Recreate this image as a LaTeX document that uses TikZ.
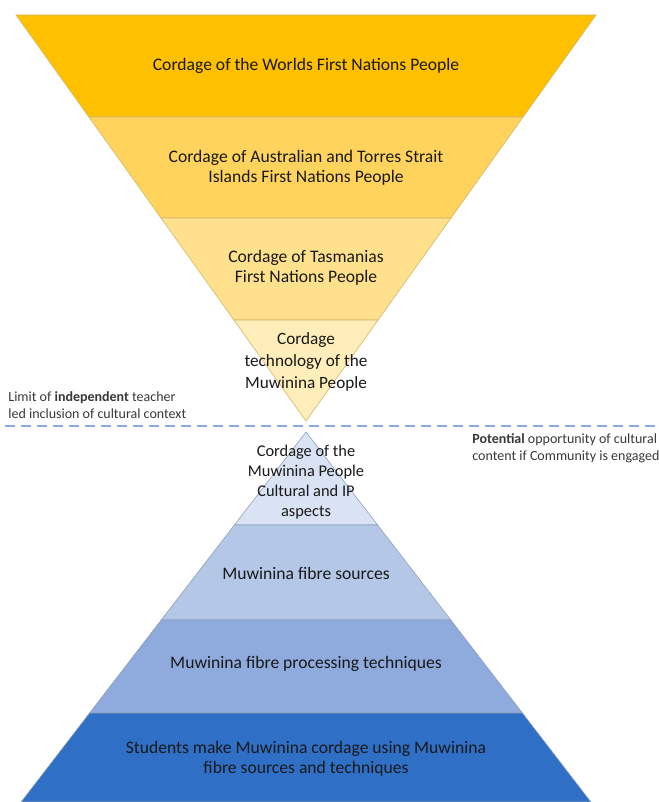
\documentclass[tikz,border=0pt]{standalone}
\usepackage{fontspec}
\setmainfont{Carlito}
\definecolor{goldA}{HTML}{FFC000}
\definecolor{goldB}{HTML}{FFD35C}
\definecolor{goldC}{HTML}{FFE08C}
\definecolor{goldD}{HTML}{FFEDBA}
\definecolor{blueA}{HTML}{DAE3F3}
\definecolor{blueB}{HTML}{B4C7E7}
\definecolor{blueC}{HTML}{8FAADC}
\definecolor{blueD}{HTML}{2F6FC6}
\begin{document}
\begin{tikzpicture}[x=0.5pt,y=-0.5pt,
  gband/.style={fill=#1,draw=goldA!70!black!60,line width=0.3pt},
  bband/.style={fill=#1,draw=blueD!60!black!50,line width=0.3pt},
  lbl/.style={align=center,font=\fontsize{8.8}{10}\selectfont,text=black!90,inner sep=0pt},
  note/.style={align=left,font=\fontsize{7}{8.6}\selectfont,text=black!78,inner sep=0pt}]
\useasboundingbox (0,0) rectangle (658,802);
% upper funnel
\path[gband=goldA] (16,15) -- (596,15) -- (523.1,117) -- (88.9,117) -- cycle;
\path[gband=goldB] (88.9,117) -- (523.1,117) -- (451,218) -- (161,218) -- cycle;
\path[gband=goldC] (161,218) -- (451,218) -- (378.1,320) -- (233.9,320) -- cycle;
\path[gband=goldD] (233.9,320) -- (378.1,320) -- (306,421) -- cycle;
% lower pyramid
\path[bband=blueA] (306,432) -- (377.6,525) -- (234.4,525) -- cycle;
\path[bband=blueB] (234.4,525) -- (377.6,525) -- (450.8,620) -- (161.2,620) -- cycle;
\path[bband=blueC] (161.2,620) -- (450.8,620) -- (522.4,713) -- (89.6,713) -- cycle;
\path[bband=blueD] (89.6,713) -- (522.4,713) -- (590.9,802) -- (21.1,802) -- cycle;
% labels
\node[lbl,name=world] at (306,66) {Cordage of the Worlds First Nations People};
\node[lbl,name=aus] at (306,168) {Cordage of Australian and Torres Strait\\Islands First Nations People};
\node[lbl,name=tas] at (306,268) {Cordage of Tasmanias\\First Nations People};
\node[lbl,name=tech,font=\fontsize{8.6}{11}\selectfont] at (306,362) {Cordage\\technology of the\\Muwinina People};
\node[lbl,name=ip,font=\fontsize{8.2}{10}\selectfont] at (306,482) {Cordage of the\\Muwinina People\\Cultural and IP\\aspects};
\node[lbl,name=src] at (306,573) {Muwinina fibre sources};
\node[lbl,name=proc] at (306,664) {Muwinina fibre processing techniques};
\node[lbl,name=make] at (306,759) {Students make Muwinina cordage using Muwinina\\fibre sources and techniques};
% limit line
\coordinate (limL) at (5,426);
\coordinate (limR) at (658,426);
\draw[blueC,line width=0.75pt,dash pattern=on 5pt off 3pt] (limL) -- (limR);
\node[note,name=limit,anchor=west] at (8,405) {Limit of \textbf{independent} teacher\\led inclusion of cultural context};
\node[note,name=potential,anchor=west] at (472,448) {\textbf{Potential} opportunity of cultural\\content if Community is engaged};
\end{tikzpicture}
\end{document}
